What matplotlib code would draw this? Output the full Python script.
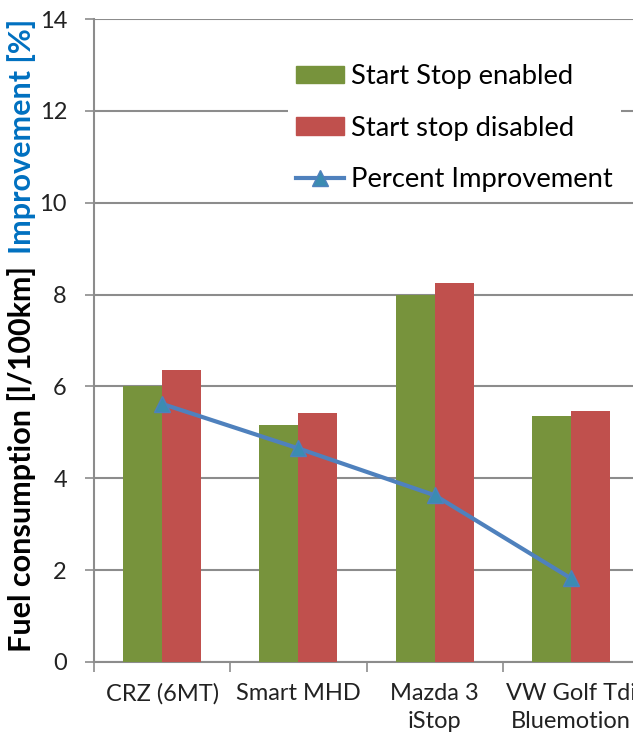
import numpy as np
import matplotlib
matplotlib.use('Agg')
import matplotlib.pyplot as plt
from matplotlib.patches import Patch
from matplotlib.lines import Line2D

#---DATA----------------------------------------------------------------------
cars = ['CRZ (6MT)', 'Smart MHD', 'Mazda 3\niStop', 'VW Golf Tdi\nBluemotion']
ss_enabled = [6.0, 5.17, 7.98, 5.35]
ss_disabled = [6.36, 5.42, 8.25, 5.46]
improvement = [5.62, 4.65, 3.63, 1.82]
yticks = [0, 2, 4, 6, 8, 10, 12, 14]

green = '#77933C'
red = '#C0504D'
blue = '#4F81BD'
grid_col = '#8C8C8C'

plt.rcParams['font.family'] = ['Lato', 'DejaVu Sans']

#---FIGURE--------------------------------------------------------------------
W, H = 633, 741
cat_px = 136.3   # width of one category in pixels
fig = plt.figure(figsize=(W/100, H/100), dpi=100)
# axes run past the right edge (reference is cropped)
ax = fig.add_axes([94/W, (H-662)/H, (700-94)/W, (662-19)/H])

x = np.arange(len(cars))
bw = 0.286
ax.bar(x - bw/2, ss_enabled, bw, color=green, zorder=2)
ax.bar(x + bw/2, ss_disabled, bw, color=red, zorder=2)
ax.plot(x, improvement, color=blue, lw=3, marker='^', ms=11,
        mfc='#3B8CB2', mec=blue, zorder=3)

ax.set_xlim(-0.5, -0.5 + (700-94)/cat_px)
ax.set_ylim(0, 14)

# y axis
ax.set_yticks(yticks)
ax.yaxis.grid(True, color=grid_col, lw=1.5, zorder=0)
ax.tick_params(axis='y', length=6.5, width=1.2, color=grid_col, pad=13,
               labelsize=17, labelcolor='#222222')

# x axis: ticks on category boundaries, labels at centres
ax.set_xticks(np.arange(len(cars) + 1) - 0.5)
ax.set_xticklabels([])
ax.set_xticks(x, minor=True)
ax.set_xticklabels(cars, minor=True, fontsize=17, color='#222222',
                   linespacing=1.45)
ax.tick_params(axis='x', which='major', length=7, width=1.2, color=grid_col)
ax.tick_params(axis='x', which='minor', length=0, pad=15)

for s in ['top', 'right']:
    ax.spines[s].set_visible(False)
for s in ['left', 'bottom']:
    ax.spines[s].set_color(grid_col)
    ax.spines[s].set_linewidth(1.5)
    ax.spines[s].set_zorder(1)

# legend
handles = [Patch(color=green), Patch(color=red),
           Line2D([], [], color=blue, lw=3, marker='^', ms=11,
                  mfc='#3B8CB2', mec=blue)]
labels = ['Start Stop enabled', 'Start stop disabled', 'Percent Improvement']
leg = ax.legend(handles, labels, loc='upper left',
                bbox_to_anchor=(288/W, 1 - 56/H), bbox_transform=fig.transFigure,
                fontsize=19.7, frameon=True, facecolor='white', edgecolor='none',
                framealpha=1, fancybox=False, handlelength=1.75,
                handleheight=0.62, handletextpad=0.25, labelspacing=0.97,
                borderpad=0.3, borderaxespad=0)
leg.set_zorder(4)

# two-coloured y label
t1 = fig.text(22/W, (H-652)/H, 'Fuel consumption [l/100km]', rotation=90,
              ha='center', va='bottom', fontsize=22, fontweight='bold',
              color='black')
fig.canvas.draw()
bb = t1.get_window_extent()
fig.text(22/W, (bb.y1 + 12)/H, 'Improvement [%]', rotation=90,
         ha='center', va='bottom', fontsize=22, fontweight='bold',
         color='#0070C0')

fig.savefig('out.png', dpi=100)
